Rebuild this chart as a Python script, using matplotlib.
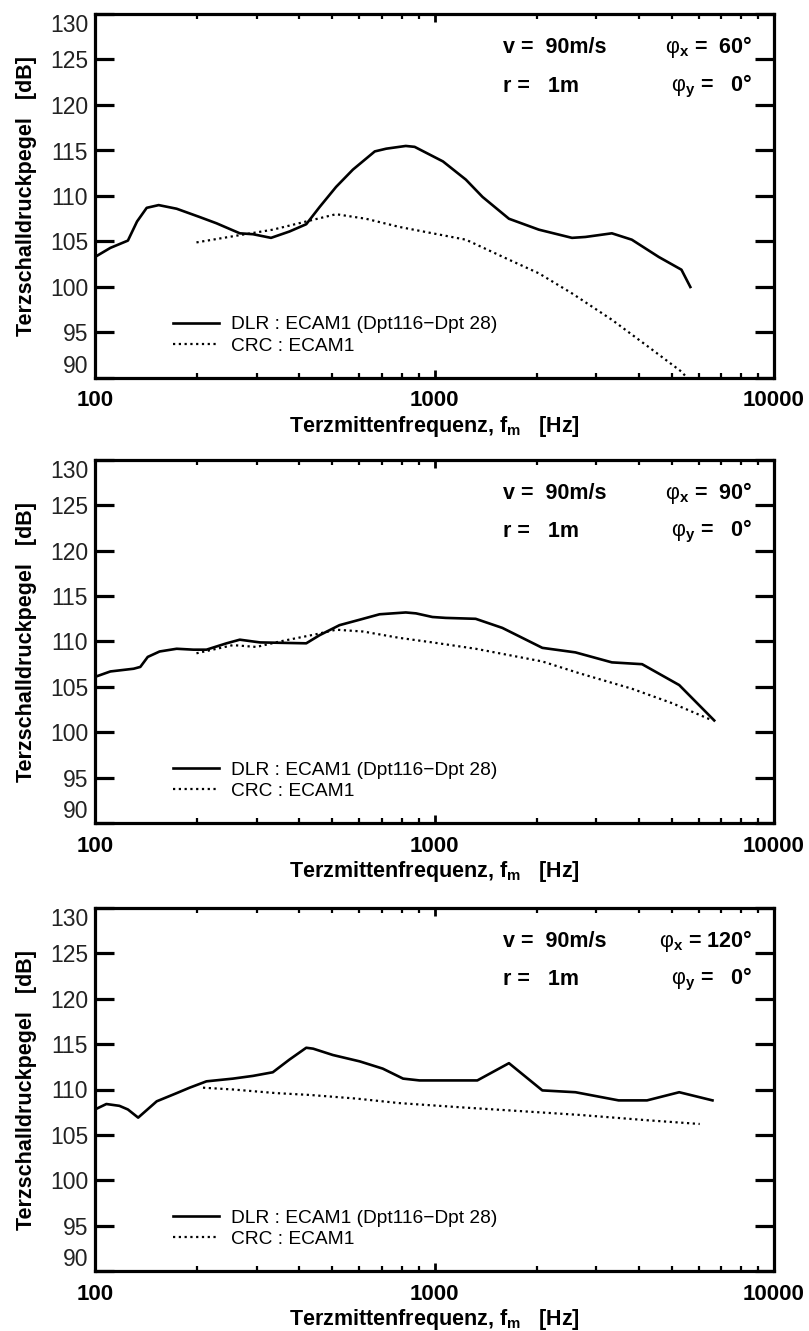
import matplotlib
matplotlib.use("Agg")
import matplotlib.pyplot as plt
from matplotlib.ticker import FixedLocator, LogLocator, NullFormatter

plt.rcParams['font.family'] = ['Liberation Sans', 'DejaVu Sans']
plt.rcParams['mathtext.fontset'] = 'custom'
plt.rcParams['mathtext.rm'] = 'Liberation Sans'
plt.rcParams['mathtext.it'] = 'Liberation Sans:italic'
plt.rcParams['mathtext.bf'] = 'Liberation Sans:bold'

# ---------------- data ----------------
# Panel 1 (phi_x = 60 deg)
p1_dlr_f = [100, 111, 125, 133, 142, 154, 174, 203, 228, 267, 292, 330, 374, 419, 459, 513,
            575, 667, 721, 823, 874, 1059, 1237, 1385, 1657, 2030, 2541, 2784, 3330, 3812,
            4577, 5338, 5670]
p1_dlr_db = [103.3, 104.3, 105.1, 107.2, 108.7, 109.0, 108.6, 107.7, 107.0, 105.9, 105.8, 105.4,
             106.1, 106.9, 108.8, 111.0, 112.9, 114.9, 115.2, 115.5, 115.4, 113.8, 111.8, 109.9,
             107.5, 106.3, 105.4, 105.5, 105.9, 105.2, 103.3, 101.9, 100.0]
p1_crc_f = [199, 267, 334, 419, 513, 628, 788, 1237, 1657, 2030, 2541, 3330, 4275, 5338, 5550]
p1_crc_db = [104.9, 105.7, 106.3, 107.2, 108.0, 107.5, 106.6, 105.2, 103.0, 101.5, 99.3, 96.4,
             93.4, 90.7, 90.0]

# Panel 2 (phi_x = 90 deg)
p2_dlr_f = [100, 111, 130, 136, 143, 155, 174, 195, 213, 244, 267, 306, 419, 459, 525, 602,
            689, 823, 882, 986, 1079, 1322, 1584, 2078, 2601, 3330, 4088, 5258, 6667]
p2_dlr_db = [106.1, 106.7, 107.0, 107.2, 108.3, 108.9, 109.2, 109.1, 109.1, 109.8, 110.2, 109.9,
             109.8, 110.7, 111.8, 112.4, 113.0, 113.2, 113.1, 112.7, 112.6, 112.5, 111.5, 109.3,
             108.8, 107.7, 107.5, 105.2, 101.3]
p2_crc_f = [199, 255, 299, 350, 448, 513, 616, 788, 986, 1322, 2078, 2672, 3812, 5014, 6589]
p2_crc_db = [108.7, 109.6, 109.4, 110.0, 110.8, 111.3, 111.1, 110.4, 109.9, 109.2, 107.8, 106.5,
             104.8, 103.2, 101.3]

# Panel 3 (phi_x = 120 deg)
p3_dlr_f = [100, 108, 118, 125, 134, 152, 174, 190, 213, 255, 292, 334, 374, 419, 439, 502,
            602, 704, 808, 903, 1337, 1657, 2078, 2601, 3486, 4226, 5258, 6589]
p3_dlr_db = [107.8, 108.4, 108.2, 107.8, 106.9, 108.7, 109.6, 110.2, 110.9, 111.2, 111.5, 111.9,
             113.3, 114.6, 114.5, 113.8, 113.1, 112.3, 111.2, 111.0, 111.0, 112.9, 109.9, 109.7,
             108.8, 108.8, 109.7, 108.8]
p3_crc_f = [208, 255, 342, 429, 588, 788, 1237, 1657, 2672, 4275, 6042]
p3_crc_db = [110.2, 110.0, 109.6, 109.4, 109.0, 108.5, 108.0, 107.7, 107.2, 106.6, 106.2]

panels = [
    (p1_dlr_f, p1_dlr_db, p1_crc_f, p1_crc_db, "=  60°"),
    (p2_dlr_f, p2_dlr_db, p2_crc_f, p2_crc_db, "=  90°"),
    (p3_dlr_f, p3_dlr_db, p3_crc_f, p3_crc_db, "= 120°"),
]

legend_labels = ["DLR : ECAM1 (Dpt116\u2212Dpt 28)", "CRC : ECAM1"]
yticks = [90, 95, 100, 105, 110, 115, 120, 125, 130]
xticks = [100, 1000, 10000]

# ---------------- figure ----------------
W, H = 809, 1331
fig = plt.figure(figsize=(W / 100, H / 100), dpi=100)

ax_left = 95
ax_right = 774
tops = [14, 460, 908]
bottoms = [378, 823, 1271]

LBL = 15.5
for (fd, dd, fc, dc, phix), top, bot in zip(panels, tops, bottoms):
    ax = fig.add_axes([ax_left / W, 1 - bot / H, (ax_right - ax_left) / W, (bot - top) / H])
    ax.set_xscale('log')
    ax.set_xlim(100, 10000)
    ax.set_ylim(90, 130)

    ax.plot(fd, dd, color='black', lw=1.9, solid_joinstyle='round', label=legend_labels[0])
    ax.plot(fc, dc, color='black', lw=1.6, linestyle=(0, (1, 1.6)), label=legend_labels[1])

    for s in ax.spines.values():
        s.set_linewidth(2.3)

    ax.xaxis.set_major_locator(FixedLocator(xticks))
    ax.set_xticklabels([str(v) for v in xticks], fontsize=16, fontweight='bold')
    ax.xaxis.set_minor_locator(LogLocator(base=10, subs=range(2, 10)))
    ax.xaxis.set_minor_formatter(NullFormatter())
    ax.set_yticks(yticks)
    ax.set_yticklabels([str(v) for v in yticks], fontsize=16.5, color='#222222')
    labs = ax.get_yticklabels()
    labs[0].set_va('bottom')
    labs[-1].set_va('top')

    ax.tick_params(axis='y', which='major', direction='in', length=14, width=2.3,
                   left=True, right=True, pad=5)
    ax.tick_params(axis='x', which='major', direction='in', length=6, width=2,
                   top=True, bottom=True, pad=9)
    ax.tick_params(axis='x', which='minor', direction='in', length=3.5, width=1.6,
                   top=True, bottom=True)

    ax.set_xlabel("Terzmittenfrequenz, f$_\\mathregular{m}$   [Hz]", fontsize=LBL,
                  fontweight='bold', labelpad=2)
    ax.set_ylabel("Terzschalldruckpegel   [dB]", fontsize=LBL, fontweight='bold', labelpad=9)

    ax.text(0.601, 0.909, "v =  90m/s", transform=ax.transAxes, fontsize=LBL,
            fontweight='bold', ha='left', va='center')
    ax.text(0.601, 0.802, "r =   1m", transform=ax.transAxes, fontsize=LBL,
            fontweight='bold', ha='left', va='center')
    ax.text(0.9676, 0.909, "$\\mathrm{\\varphi}_\\mathregular{x}$ " + phix, transform=ax.transAxes,
            fontsize=LBL, fontweight='bold', ha='right', va='center')
    ax.text(0.9676, 0.802, "$\\mathrm{\\varphi}_\\mathregular{y}$ =   0°", transform=ax.transAxes,
            fontsize=LBL, fontweight='bold', ha='right', va='center')

    ax.legend(loc='lower left', bbox_to_anchor=(0.115, 0.064), frameon=False, borderpad=0,
              borderaxespad=0, handlelength=2.4, handletextpad=0.6, labelspacing=0.2,
              fontsize=13.8)

fig.savefig("out.png", dpi=100)
